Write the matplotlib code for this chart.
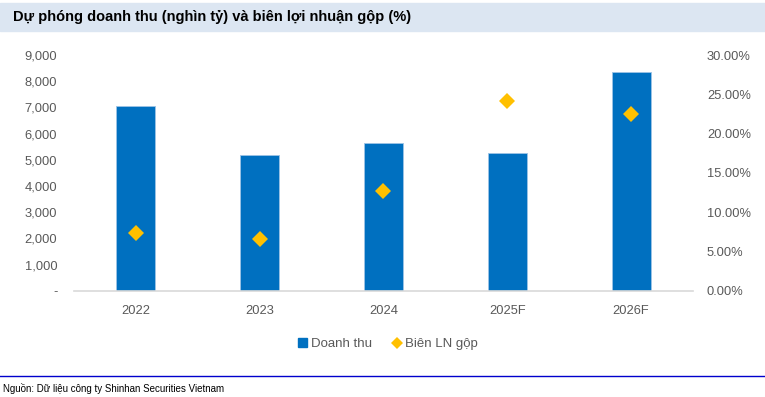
import matplotlib.pyplot as plt
import matplotlib.ticker as mticker
from matplotlib.lines import Line2D
from matplotlib.patches import Patch
import numpy as np

years = ["2022", "2023", "2024", "2025F", "2026F"]
revenue = [7060, 5190, 5630, 5260, 8350]  # nghin ty
gross_margin = [7.4, 6.6, 12.7, 24.1, 22.5]  # %

BLUE = "#0070C0"
YELLOW = "#FFC000"
GRAY = "#595959"

plt.rcParams["font.family"] = ["Liberation Sans", "DejaVu Sans"]


def main():
    fig = plt.figure(figsize=(7.65, 3.97), dpi=100)

    # title band
    fig.patches.append(plt.Rectangle((0, 1 - 31 / 397), 1, 28 / 397,
                                     transform=fig.transFigure,
                                     color="#DCE6F2", zorder=0))
    fig.text(13 / 765, 1 - 17 / 397, "Dự phóng doanh thu (nghìn tỷ) và biên lợi nhuận gộp (%)",
             fontsize=10.5, fontweight="bold", va="center", color="black")

    ax = fig.add_axes([74 / 765, 1 - 290.7 / 397, (693 - 74) / 765, (290.7 - 55) / 397])
    x = np.arange(len(years))
    ax.bar(x, revenue, width=0.315, color=BLUE, edgecolor="#9DC3E6", linewidth=0.6, zorder=2)
    ax.set_xlim(-0.5, len(years) - 0.5)
    ax.set_ylim(0, 9000)
    ax.yaxis.set_major_locator(mticker.MultipleLocator(1000))
    ax.yaxis.set_major_formatter(mticker.FuncFormatter(lambda v, p: "-" if v == 0 else f"{v:,.0f}"))
    ax.set_xticks(x)
    ax.set_xticklabels(years)
    ax.tick_params(length=0, labelsize=9.3, colors=GRAY, pad=10)
    ax.tick_params(axis="y", pad=12)
    for s in ["top", "left", "right"]:
        ax.spines[s].set_visible(False)
    ax.spines["bottom"].set_color("#D9D9D9")
    ax.spines["bottom"].set_linewidth(1.2)

    ax2 = ax.twinx()
    ax2.plot(x, gross_margin, linestyle="none", marker="D", markersize=8.5,
             color=YELLOW, markeredgewidth=0, zorder=3)
    ax2.set_ylim(0, 30)
    ax2.yaxis.set_major_locator(mticker.MultipleLocator(5))
    ax2.yaxis.set_major_formatter(mticker.FuncFormatter(lambda v, p: f"{v:.2f}%"))
    ax2.tick_params(length=0, labelsize=9.3, colors=GRAY, pad=10)
    for s in ["top", "left", "right", "bottom"]:
        ax2.spines[s].set_visible(False)

    handles = [Patch(color=BLUE),
               Line2D([], [], linestyle="none", marker="D", markersize=6,
                      color=YELLOW, markeredgewidth=0)]
    fig.legend(handles, ["Doanh thu", "Biên LN gộp"], loc="center",
               bbox_to_anchor=(388 / 765, 1 - 344 / 397), ncol=2, frameon=False,
               fontsize=9.5, labelcolor=GRAY, handlelength=0.7, handletextpad=0.3,
               columnspacing=1.5)

    fig.add_artist(Line2D([0, 1], [1 - 376 / 397, 1 - 376 / 397],
                          transform=fig.transFigure, color="#0000CC", linewidth=1))
    fig.text(3 / 765, 1 - 388 / 397, "Nguồn: Dữ liệu công ty Shinhan Securities Vietnam",
             fontsize=7, va="center", color="black")

    fig.savefig("out.png", dpi=100)


if __name__ == "__main__":
    main()
